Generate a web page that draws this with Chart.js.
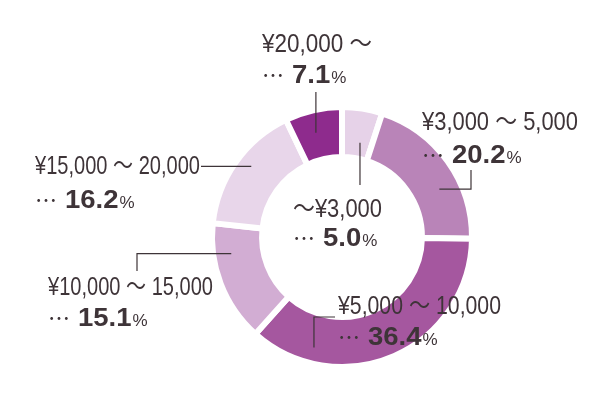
<!DOCTYPE html>
<html>
<head>
<meta charset="utf-8">
<script src="https://cdn.jsdelivr.net/npm/chart.js@4"></script>
<style>
  html, body { margin: 0; padding: 0; background: #ffffff; }
  #wrap { width: 600px; height: 400px; }
</style>
</head>
<body>
<div id="wrap"><canvas id="c" width="600" height="400"></canvas></div>
<script>
// ---- data ----
const categories = ['～¥3,000', '¥3,000 ～ 5,000', '¥5,000 ～ 10,000', '¥10,000 ～ 15,000', '¥15,000 ～ 20,000', '¥20,000 ～'];
const shares = [5.0, 20.2, 36.4, 15.1, 16.2, 7.1];
const sliceColors = ['#e6d2e8', '#b984b8', '#a5579f', '#d2add3', '#e8d6ea', '#8e2b8d'];

// ---- label layout (annotation placement) ----
// anchor: position inside its slice (frac along angle, t across ring), then leader path segments
const labelLayout = [
  { x: 293, y1: 210, y2: 238, w: 89,  frac: 0.6,  t: 0.32, path: [['v', 185]] },
  { x: 422, y1: 123, y2: 155, w: 156, frac: 0.63, t: 0.57, path: [['h', 471], ['v', 170]] },
  { x: 338, y1: 307, y2: 337, w: 163, frac: 0.79, t: 0.68, path: [['v', 317], ['h', 335]] },
  { x: 48,  y1: 288, y2: 318, w: 165, frac: 0.73, t: 0.64, path: [['h', 137], ['v', 271]] },
  { x: 35,  y1: 167, y2: 200, w: 165, frac: 0.545, t: 0.7, path: [['h', 201]] },
  { x: 262, y1: 45,  y2: 75,  w: 110, frac: 0.45, t: 0.55, path: [['v', 92]] }
];

const TEXT = '#3e3438';
const REG_FONT = "25px 'Liberation Sans', 'Noto Sans CJK JP', sans-serif";
const BOLD_FONT = "bold 25px 'Liberation Sans', 'Noto Sans CJK JP', sans-serif";
const PCT_FONT = "17px 'Liberation Sans', sans-serif";
const DOT_FONT = "22px 'Noto Sans CJK JP', sans-serif";

const labelPlugin = {
  id: 'calloutLabels',
  afterDatasetsDraw(chart) {
    const ctx = chart.ctx;
    const meta = chart.getDatasetMeta(0);
    ctx.save();
    meta.data.forEach((arc, i) => {
      const L = labelLayout[i];
      const p = arc.getProps(['x', 'y', 'startAngle', 'endAngle', 'innerRadius', 'outerRadius'], true);
      const ang = p.startAngle + L.frac * (p.endAngle - p.startAngle);
      const r = p.innerRadius + L.t * (p.outerRadius - p.innerRadius);
      let cx = p.x + Math.cos(ang) * r;
      let cy = p.y + Math.sin(ang) * r;
      // leader line
      ctx.strokeStyle = TEXT;
      ctx.lineWidth = 1.2;
      ctx.beginPath();
      ctx.moveTo(cx, cy);
      L.path.forEach(([d, v]) => {
        if (d === 'v') cy = v; else cx = v;
        ctx.lineTo(cx, cy);
      });
      ctx.stroke();

      ctx.fillStyle = TEXT;
      ctx.textBaseline = 'middle';
      ctx.textAlign = 'left';
      // line 1: category (condensed to fit)
      ctx.save();
      ctx.font = REG_FONT;
      const mw = ctx.measureText(categories[i]).width;
      ctx.translate(L.x, L.y1);
      ctx.scale(L.w / mw, 1);
      ctx.fillText(categories[i], 0, 0);
      ctx.restore();
      // line 2: … value %
      let x = L.x;
      ctx.font = DOT_FONT;
      ctx.fillText('…', x, L.y2);
      x += ctx.measureText('…').width + 8;
      ctx.font = BOLD_FONT;
      const num = shares[i].toFixed(1);
      const nw = ctx.measureText(num).width * 1.1;
      ctx.save();
      ctx.translate(x, L.y2 + 1);
      ctx.scale(1.1, 1);
      ctx.fillText(num, 0, 0);
      ctx.restore();
      x += nw + 1;
      ctx.font = PCT_FONT;
      ctx.fillText('%', x, L.y2 + 3);
    });
    ctx.restore();
  }
};

new Chart(document.getElementById('c'), {
  type: 'doughnut',
  data: {
    labels: categories,
    datasets: [{
      data: shares,
      backgroundColor: sliceColors,
      borderColor: '#ffffff',
      borderWidth: 6,
      hoverOffset: 0
    }]
  },
  options: {
    responsive: false,
    animation: false,
    cutout: '61.5%',
    layout: { padding: { left: 209, right: 125, top: 104, bottom: 30 } },
    plugins: {
      legend: { display: false },
      tooltip: { enabled: false }
    }
  },
  plugins: [labelPlugin]
});
</script>
</body>
</html>
